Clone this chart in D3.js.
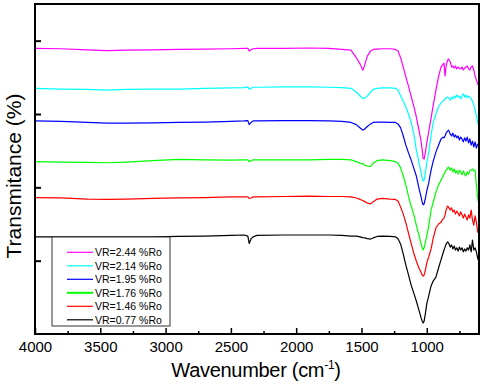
<!DOCTYPE html>
<html>
<head>
<meta charset="utf-8">
<script src="https://cdn.jsdelivr.net/npm/d3@7"></script>
<style>
  body { margin: 0; background: #fff; }
  svg { display: block; font-family: "Liberation Sans", Arial, sans-serif; }
</style>
</head>
<body>
<svg></svg>
<script>
// shared wavenumber grid (cm-1)
const wavenumbers = [4000, 3800, 3600, 3450, 3300, 3100, 2900, 2700, 2500, 2400,
  2370, 2360, 2345, 2330, 2300, 2100, 1900, 1750, 1650, 1580,
  1540, 1510, 1490, 1475, 1455, 1430, 1410, 1380, 1340, 1280,
  1240, 1220, 1200, 1180, 1160, 1140, 1120, 1100, 1080, 1060,
  1045, 1035, 1028, 1020, 1010, 1000, 985, 967, 950, 930,
  910, 891, 875, 868, 860, 852, 840, 833, 820, 810,
  800, 790, 780, 770, 760, 750, 740, 730, 720, 710,
  700, 690, 680, 670, 660, 650, 640, 630, 620, 610,
  600];

// transmittance (offset, arbitrary %) per sample
const vr244 = [77.9, 77.8, 77.5, 77.3, 77.4, 77.5, 77.6, 77.7, 77.8, 77.9,
  77.9, 77.2, 77.5, 77.8, 77.9, 77.9, 78.0, 77.9, 77.6, 77.4,
  75.4, 73.6, 71.9, 73.4, 75.8, 77.2, 77.6, 77.7, 77.8, 77.8,
  77.6, 77.2, 75.3, 72.8, 70.1, 67.6, 64.9, 62.2, 59.2, 55.6,
  52.9, 50.2, 48.0, 47.7, 49.6, 52.1, 55.1, 58.9, 62.5, 66.5,
  70.1, 72.8, 73.6, 73.9, 70.4, 73.1, 74.7, 75.0, 74.2, 72.8,
  73.1, 72.5, 73.1, 72.3, 72.8, 72.5, 72.3, 72.8, 72.0, 72.5,
  72.8, 73.1, 72.3, 72.0, 72.8, 73.1, 72.0, 70.4, 69.3, 68.2,
  67.6];
const vr214 = [67.0, 66.8, 66.7, 66.5, 66.7, 66.8, 66.8, 67.0, 67.1, 67.2,
  67.4, 66.8, 67.0, 67.3, 67.3, 67.4, 67.4, 67.3, 67.2, 67.0,
  66.0, 64.9, 64.2, 64.4, 64.9, 66.0, 66.7, 67.0, 67.1, 67.1,
  67.0, 66.5, 64.9, 63.5, 61.9, 60.0, 57.8, 54.8, 50.2, 46.9,
  44.2, 42.5, 41.7, 42.0, 44.2, 46.6, 49.6, 54.3, 57.8, 60.0,
  61.9, 63.0, 63.5, 63.8, 64.1, 64.4, 64.6, 64.4, 63.8, 64.6,
  64.1, 64.9, 64.4, 65.2, 64.6, 64.9, 64.1, 64.9, 65.5, 64.6,
  65.2, 64.4, 64.9, 64.6, 64.1, 63.5, 62.5, 61.1, 59.5, 57.8,
  56.2];
const vr195 = [58.1, 58.0, 57.7, 57.5, 57.5, 57.6, 57.7, 57.8, 58.0, 58.1,
  58.2, 57.1, 57.7, 58.1, 58.1, 58.2, 58.2, 58.1, 58.0, 57.7,
  57.1, 56.2, 55.6, 55.9, 56.6, 57.3, 57.7, 57.8, 57.8, 57.7,
  57.7, 57.3, 56.2, 54.0, 51.5, 49.4, 47.5, 45.3, 43.1, 39.8,
  37.6, 36.0, 35.2, 35.5, 37.1, 39.0, 41.2, 44.7, 47.2, 49.6,
  51.5, 53.2, 53.7, 53.5, 54.0, 54.8, 55.4, 55.6, 54.5, 54.0,
  54.8, 53.7, 54.3, 53.5, 54.0, 52.9, 53.7, 53.2, 52.4, 53.5,
  52.6, 53.7, 52.1, 53.2, 51.5, 52.6, 51.0, 52.4, 50.7, 51.8,
  51.3];
const vr176 = [47.0, 46.9, 46.8, 46.7, 46.9, 47.3, 47.6, 47.5, 47.4, 47.5,
  47.5, 47.0, 47.2, 47.5, 47.5, 47.5, 47.5, 47.6, 47.6, 47.5,
  47.0, 46.6, 46.4, 46.1, 45.8, 45.7, 46.6, 47.3, 47.5, 47.3,
  47.0, 46.6, 45.3, 43.1, 40.6, 37.6, 34.9, 32.7, 29.7, 27.0,
  24.8, 23.5, 22.9, 23.5, 25.1, 26.7, 29.5, 33.8, 36.0, 38.7,
  40.6, 42.0, 43.1, 43.6, 44.2, 44.7, 45.3, 45.5, 44.7, 45.3,
  44.2, 45.0, 43.9, 44.5, 43.6, 44.7, 44.2, 43.4, 44.5, 43.6,
  43.1, 44.2, 43.6, 44.5, 44.7, 45.0, 44.5, 44.7, 40.6, 37.1,
  35.2];
const vr146 = [37.2, 37.1, 36.8, 36.7, 36.8, 37.0, 37.1, 37.2, 37.4, 37.4,
  37.4, 37.0, 37.1, 37.4, 37.4, 37.5, 37.6, 37.5, 37.5, 37.4,
  37.1, 36.7, 36.4, 36.1, 35.7, 35.5, 36.1, 36.8, 37.0, 36.8,
  36.7, 36.3, 34.6, 32.7, 30.3, 27.5, 24.8, 22.1, 19.9, 18.0,
  16.9, 16.1, 15.8, 16.1, 17.5, 19.4, 21.0, 23.2, 26.2, 28.9,
  30.0, 30.5, 31.4, 31.6, 32.5, 33.8, 34.9, 34.6, 33.8, 34.4,
  33.3, 33.8, 32.7, 33.5, 33.0, 32.2, 33.3, 32.5, 31.6, 32.7,
  31.9, 31.1, 32.5, 31.6, 33.8, 31.1, 29.7, 32.2, 30.5, 27.8,
  28.4];
const vr077 = [26.5, 26.5, 26.5, 26.5, 26.5, 26.5, 26.6, 26.7, 26.9, 27.0,
  26.7, 24.7, 26.0, 26.5, 26.9, 27.0, 27.0, 27.0, 26.9, 26.7,
  26.7, 26.5, 26.3, 26.2, 26.0, 25.9, 26.2, 26.6, 26.7, 26.6,
  26.5, 26.0, 24.5, 21.8, 18.8, 16.1, 13.4, 11.2, 9.0, 6.5,
  4.6, 3.5, 3.0, 3.5, 5.7, 8.2, 10.4, 13.1, 14.5, 15.5,
  18.0, 20.2, 22.1, 22.9, 23.7, 24.5, 25.1, 24.8, 23.7, 24.3,
  23.2, 24.0, 22.9, 23.5, 22.6, 23.7, 22.9, 23.5, 22.4, 23.2,
  22.6, 23.5, 22.9, 24.3, 22.4, 25.6, 22.9, 23.5, 22.4, 20.7,
  19.6];

const seriesNames = ["VR=2.44 %Ro", "VR=2.14 %Ro", "VR=1.95 %Ro",
  "VR=1.76 %Ro", "VR=1.46 %Ro", "VR=0.77 %Ro"];
const xTickValues = [4000, 3500, 3000, 2500, 2000, 1500, 1000];
const xMinorTicks = [3750, 3250, 2750, 2250, 1750, 1250, 750];
const yTickValues = [20, 40, 60, 80];

function createSpectraChart() {
  const margin = { top: 4, right: 5, bottom: 50, left: 35 };
  const width = 484 - margin.left - margin.right;
  const height = 384 - margin.top - margin.bottom;

  const colors = ["#ff00ff", "#00ffff", "#0000ff", "#00ff00", "#ff0000", "#000000"];
  const series = [vr244, vr214, vr195, vr176, vr146, vr077];

  const root = d3.select("svg")
    .attr("width", 484)
    .attr("height", 384);

  const svg = root.append("g")
    .attr("transform", `translate(${margin.left},${margin.top})`);

  const x = d3.scaleLinear()
    .domain([4000, 600])
    .range([0, width]);

  const y = d3.scaleLinear()
    .domain([0, 90])
    .range([height, 0]);

  svg.append("clipPath")
    .attr("id", "plot-clip")
    .append("rect")
    .attr("width", width)
    .attr("height", height);

  const line = d3.line()
    .x((d, i) => x(wavenumbers[i]))
    .y(d => y(d));

  svg.append("g")
    .attr("clip-path", "url(#plot-clip)")
    .selectAll("path")
    .data(series)
    .enter().append("path")
    .attr("fill", "none")
    .attr("stroke", (d, i) => colors[i])
    .attr("stroke-width", 1.2)
    .attr("stroke-linejoin", "round")
    .attr("d", line);

  // x axis: major + minor ticks pointing inward
  const xAxis = svg.append("g")
    .attr("transform", `translate(0,${height})`)
    .call(d3.axisBottom(x).tickValues(xTickValues).tickSize(-6).tickPadding(7)
      .tickFormat(d3.format("d")));
  xAxis.select(".domain").remove();
  xAxis.selectAll("line").attr("stroke-width", 1.5);
  xAxis.selectAll("text")
    .style("font-size", "15px")
    .attr("fill", "#000");

  const xMinor = svg.append("g")
    .attr("transform", `translate(0,${height})`)
    .call(d3.axisBottom(x).tickValues(xMinorTicks).tickSize(-3).tickFormat(""));
  xMinor.select(".domain").remove();
  xMinor.selectAll("line").attr("stroke-width", 1.5);

  const yAxis = svg.append("g")
    .call(d3.axisLeft(y).tickValues(yTickValues).tickSize(-6).tickFormat(""));
  yAxis.select(".domain").remove();
  yAxis.selectAll("line").attr("stroke-width", 2);

  // frame
  svg.append("rect")
    .attr("width", width)
    .attr("height", height)
    .attr("fill", "none")
    .attr("stroke", "#000")
    .attr("stroke-width", 2);

  // legend
  const legend = svg.append("g")
    .attr("transform", "translate(17,233)");

  legend.append("rect")
    .attr("width", 118)
    .attr("height", 89)
    .attr("fill", "#fff")
    .attr("stroke", "#333")
    .attr("stroke-width", 1);

  seriesNames.forEach((name, i) => {
    const row = legend.append("g")
      .attr("transform", `translate(0,${15.3 + i * 13.5})`);
    row.append("line")
      .attr("x1", 15)
      .attr("x2", 41)
      .attr("stroke", colors[i])
      .attr("stroke-width", i === 3 ? 2 : 1.2);
    row.append("text")
      .attr("x", 43)
      .attr("y", 4)
      .style("font-size", "10.5px")
      .text(name);
  });

  // axis titles
  const xTitle = root.append("text")
    .attr("x", margin.left + width / 2 - 1)
    .attr("y", 377)
    .attr("text-anchor", "middle")
    .style("font-size", "20px")
    .style("letter-spacing", "-0.3px");
  xTitle.append("tspan").text("Wavenumber (cm");
  xTitle.append("tspan").attr("dy", -8).style("font-size", "12px").text("-1");
  xTitle.append("tspan").attr("dy", 8).text(")");

  root.append("text")
    .attr("transform", "rotate(-90)")
    .attr("x", -176)
    .attr("y", 21)
    .attr("text-anchor", "middle")
    .style("font-size", "21px")
    .text("Transmitance (%)");
}

createSpectraChart();
</script>
</body>
</html>
